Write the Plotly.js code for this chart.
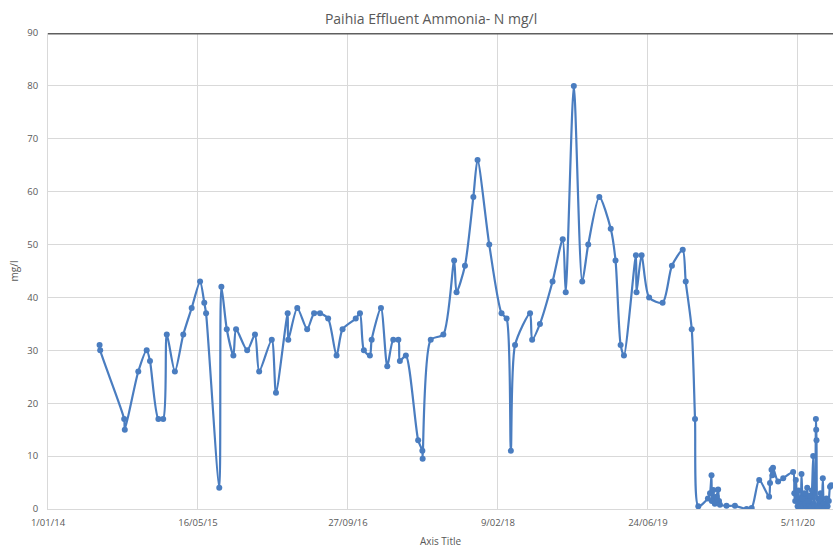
<!DOCTYPE html>
<html>
<head>
<meta charset="utf-8">
<script src="https://cdn.plot.ly/plotly-3.0.1.min.js"></script>
<style>
  html, body { margin: 0; padding: 0; background: #ffffff; }
  #chart { width: 833px; height: 553px; }
</style>
</head>
<body>
<div id="chart"></div>
<script>
// Sample dates (d/mm/yy axis in the original, stored here as ISO dates)
const sampleDates = [
  "2014-06-22","2014-06-24","2014-09-12","2014-09-14","2014-10-29","2014-11-26","2014-12-07",
  "2015-01-04","2015-01-20","2015-02-01","2015-02-28","2015-03-28","2015-04-25","2015-05-23",
  "2015-06-06","2015-06-12","2015-07-26","2015-08-02","2015-08-20","2015-09-11","2015-09-20",
  "2015-10-27","2015-11-22","2015-12-06",
  "2016-01-17","2016-01-31","2016-03-10","2016-03-12","2016-04-11","2016-05-14","2016-06-06",
  "2016-06-26","2016-07-23","2016-08-20","2016-09-09","2016-10-23","2016-11-06","2016-11-19",
  "2016-12-09","2016-12-15",
  "2017-01-15","2017-02-05","2017-02-25","2017-03-14","2017-03-19","2017-04-08","2017-05-19",
  "2017-06-02","2017-06-03","2017-06-30","2017-08-11","2017-09-16","2017-09-24","2017-10-22",
  "2017-11-19","2017-12-03",
  "2018-01-11","2018-02-21","2018-03-10","2018-03-24","2018-04-07","2018-05-27","2018-06-03",
  "2018-06-29","2018-08-10","2018-09-13","2018-09-23","2018-10-20","2018-11-17","2018-12-07",
  "2019-01-13","2019-02-20","2019-03-08","2019-03-25","2019-04-05","2019-05-15","2019-05-17",
  "2019-06-03","2019-06-28","2019-08-12","2019-09-12","2019-10-18","2019-10-28","2019-11-17",
  "2019-11-28","2019-12-09",
  "2020-01-10","2020-01-17","2020-01-22","2020-01-23","2020-01-28","2020-02-02","2020-02-08",
  "2020-02-13","2020-02-16","2020-02-19","2020-03-12","2020-04-09","2020-05-18","2020-06-04",
  "2020-06-29","2020-08-01","2020-08-04","2020-08-09","2020-08-12","2020-08-14","2020-08-31",
  "2020-09-17","2020-10-20","2020-10-24","2020-10-27","2020-10-29","2020-11-01","2020-11-04",
  "2020-11-07","2020-11-10","2020-11-14","2020-11-17","2020-11-20","2020-11-23","2020-11-27",
  "2020-11-30","2020-12-03","2020-12-06","2020-12-09","2020-12-12","2020-12-15","2020-12-18",
  "2020-12-22","2020-12-26","2020-12-28","2020-12-31",
  "2021-01-04","2021-01-05","2021-01-06","2021-01-08","2021-01-11","2021-01-14","2021-01-17",
  "2021-01-20","2021-01-24","2021-01-27","2021-01-30","2021-02-03","2021-02-08","2021-02-12",
  "2021-02-16","2021-02-20","2021-02-24"
];

// Ammonia-N, mg/l
const ammoniaN = [
  31,30,17,15,26,30,28,
  17,17,33,26,33,38,43,
  39,37,4,42,34,29,34,
  30,33,26,
  32,22,37,32,38,34,37,
  37,36,29,34,36,37,30,
  29,32,
  38,27,32,32,28,29,13,
  11,9.5,32,33,47,41,46,
  59,66,
  50,37,36,11,31,37,32,
  35,43,51,41,80,43,50,
  59,53,47,31,29,48,41,
  48,40,39,46,49,43,34,
  17,0.5,
  2,3,6.4,1.5,3.6,1,2.3,
  3.7,1.5,0.8,0.6,0.6,0,0.2,
  5.5,2.3,4.9,7.4,6.4,7.8,5.2,
  5.8,7,3,1.5,5.5,2.3,0.5,
  3.5,1,0.3,6.6,2,0.5,3,
  1,0.2,4,1.5,0.5,2.5,0.3,
  3.5,10,1,0.5,
  17,15,13,0.5,2,0.3,1.5,
  3,0.5,5.8,1,0.2,2,0.5,
  1.5,4.2,4.5
];

const chartTitle = "Paihia Effluent Ammonia- N mg/l";
const xTitle = "Axis Title";
const yTitle = "mg/l";

const blue = "#4a7dc0";
const textGrey = "#595959";
const gridGrey = "#d9d9d9";
const FONT = "Open Sans, Liberation Sans, sans-serif";

const trace = {
  type: "scatter",
  mode: "lines+markers",
  x: sampleDates,
  y: ammoniaN,
  line: { color: blue, width: 2.2, shape: "spline", smoothing: 0.7 },
  marker: { color: blue, size: 6, symbol: "circle" },
  hoverinfo: "x+y",
  showlegend: false
};

const layout = {
  width: 833,
  height: 553,
  margin: { l: 48, r: 0, t: 33, b: 44, pad: 0 },
  paper_bgcolor: "#ffffff",
  plot_bgcolor: "#ffffff",
  font: { family: FONT, color: textGrey, size: 9 },
  title: {
    text: chartTitle,
    font: { family: FONT, size: 14, color: textGrey },
    x: 0.488, xref: "paper", xanchor: "center",
    y: 0.966, yref: "container", yanchor: "middle"
  },
  xaxis: {
    type: "date",
    range: ["2014-01-01", "2021-03-02"],
    tick0: "2014-01-01",
    dtick: 500 * 86400000,
    tickformat: "%-d/%m/%y",
    showgrid: true,
    gridcolor: gridGrey,
    gridwidth: 1,
    showline: true,
    linecolor: gridGrey,
    linewidth: 1,
    zeroline: false,
    ticks: "",
    ticklabelstandoff: 5,
    tickfont: { family: FONT, size: 9.5, color: textGrey },
    title: { text: xTitle, font: { family: FONT, size: 10, color: textGrey }, standoff: 9 }
  },
  yaxis: {
    range: [0, 90],
    dtick: 10,
    tick0: 0,
    showgrid: true,
    gridcolor: gridGrey,
    gridwidth: 1,
    showline: true,
    linecolor: gridGrey,
    linewidth: 1,
    zeroline: false,
    ticks: "",
    ticklabelstandoff: 7,
    tickfont: { family: FONT, size: 9.5, color: textGrey },
    title: { text: yTitle, font: { family: FONT, size: 10, color: textGrey }, standoff: 6 }
  },
  shapes: [
    {
      type: "line", xref: "paper", yref: "y",
      x0: 0, x1: 1, y0: 90, y1: 90,
      line: { color: "#5f5f5f", width: 3 },
      layer: "above"
    }
  ]
};

Plotly.newPlot("chart", [trace], layout, { displayModeBar: false, staticPlot: true });
</script>
</body>
</html>
